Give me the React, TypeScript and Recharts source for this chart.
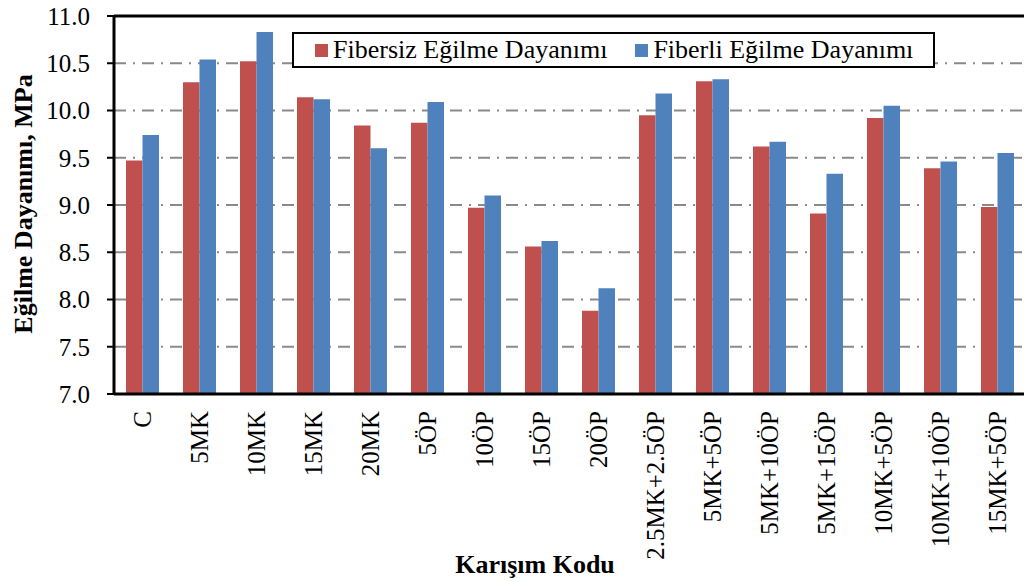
import React from 'react';
import {
  BarChart,
  Bar,
  XAxis,
  YAxis,
  CartesianGrid,
  ReferenceLine,
  Legend,
  Label,
} from 'recharts';

const categories = [
  'C', '5MK', '10MK', '15MK', '20MK', '5ÖP', '10ÖP', '15ÖP', '20ÖP',
  '2.5MK+2.5ÖP', '5MK+5ÖP', '5MK+10ÖP', '5MK+15ÖP', '10MK+5ÖP', '10MK+10ÖP', '15MK+5ÖP',
];
const fibersiz = [9.47, 10.3, 10.52, 10.14, 9.84, 9.87, 8.97, 8.56, 7.88, 9.95, 10.31, 9.62, 8.91, 9.92, 9.39, 8.98];
const fiberli = [9.74, 10.54, 10.83, 10.12, 9.6, 10.09, 9.1, 8.62, 8.12, 10.18, 10.33, 9.67, 9.33, 10.05, 9.46, 9.55];
const yTicks = [7.0, 7.5, 8.0, 8.5, 9.0, 9.5, 10.0, 10.5, 11.0];

const seriesNames = ['Fibersiz Eğilme Dayanımı', 'Fiberli Eğilme Dayanımı'];
const seriesColors = ['#C0504D', '#4F81BD'];
const FONT = "'Liberation Serif', Tinos, 'Times New Roman', 'DejaVu Serif', 'Noto Serif', serif";

const data = categories.map((c, i) => ({ name: c, fibersiz: fibersiz[i], fiberli: fiberli[i] }));

const XTick = (props: any) => {
  const { x, y, payload } = props;
  return (
    <text
      x={x}
      y={y}
      transform={`rotate(-90, ${x}, ${y})`}
      textAnchor="end"
      dy="0.33em"
      style={{ fontFamily: FONT }}
      fontSize={25}
      fill="#000"
    >
      {payload.value}
    </text>
  );
};

const LegendContent = () => {
  return (
    <div
      style={{
        boxSizing: 'border-box',
        width: 643,
        height: 36,
        border: '2px solid #000',
        background: '#fff',
        display: 'flex',
        alignItems: 'center',
        paddingLeft: 21,
        fontFamily: FONT,
        fontSize: 26,
        color: '#000',
        whiteSpace: 'nowrap',
      }}
    >
      {seriesNames.map((n, i) => (
        <div key={i} style={{ display: 'flex', alignItems: 'center', marginRight: 28 }}>
          <span style={{ display: 'inline-block', width: 13, height: 13, background: seriesColors[i], marginRight: 5 }} />
          <span style={{ lineHeight: '30px' }}>{n}</span>
        </div>
      ))}
    </div>
  );
};

export default function App() {
  return (
    <div style={{ position: 'fixed', left: 0, top: 0, width: 1024, height: 581, overflow: 'hidden', background: '#fff', fontFamily: FONT }}>
      <BarChart
        width={1040}
        height={581}
        data={data}
        margin={{ top: 16, right: 14, left: 0, bottom: 0 }}
        barSize={16.5}
        barGap={0}
      >
        <CartesianGrid
          vertical={false}
          stroke="#8a8a8a"
          strokeWidth={2}
          strokeDasharray="12 7 2 7"
        />
        <XAxis
          dataKey="name"
          height={187}
          interval={0}
          tickLine={false}
          tickSize={0}
          tickMargin={17}
          axisLine={{ stroke: '#000', strokeWidth: 3 }}
          tick={<XTick />}
        >
          <Label
            content={(p: any) => {
              const vb = p.viewBox || { x: 114, y: 394, width: 912, height: 187 };
              return (
                <text
                  x={vb.x + vb.width / 2 - 35}
                  y={vb.y + 179}
                  textAnchor="middle"
                  style={{ fontFamily: FONT }}
                  fontWeight="bold"
                  fontSize={26}
                  fill="#000"
                >
                  Karışım Kodu
                </text>
              );
            }}
          />
        </XAxis>
        <YAxis
          width={114}
          domain={[7, 11]}
          ticks={yTicks}
          interval={0}
          allowDataOverflow
          tickFormatter={(v: number) => v.toFixed(1)}
          tickSize={7}
          tickMargin={17}
          tickLine={{ stroke: '#000', strokeWidth: 2 }}
          axisLine={{ stroke: '#000', strokeWidth: 3 }}
          tick={{ fontSize: 25, fill: '#000', style: { fontFamily: FONT } }}
        >
          <Label
            content={(p: any) => {
              const vb = p.viewBox || { x: 0, y: 16, width: 114, height: 378 };
              const cx = vb.x + 23;
              const cy = vb.y + vb.height / 2 - 1;
              return (
                <text
                  x={cx}
                  y={cy}
                  transform={`rotate(-90, ${cx}, ${cy})`}
                  textAnchor="middle"
                  dy="0.35em"
                  style={{ fontFamily: FONT }}
                  fontWeight="bold"
                  fontSize={26}
                  fill="#000"
                >
                  Eğilme Dayanımı, MPa
                </text>
              );
            }}
          />
        </YAxis>
        <ReferenceLine y={11} stroke="#000" strokeWidth={3} ifOverflow="extendDomain" />
        <Legend
          layout="horizontal"
          verticalAlign="middle"
          align="center"
          wrapperStyle={{ left: 292, top: 32, width: 643, height: 36 }}
          content={<LegendContent />}
        />
        <Bar dataKey="fibersiz" name={seriesNames[0]} fill={seriesColors[0]} isAnimationActive={false} />
        <Bar dataKey="fiberli" name={seriesNames[1]} fill={seriesColors[1]} isAnimationActive={false} />
      </BarChart>
    </div>
  );
}
